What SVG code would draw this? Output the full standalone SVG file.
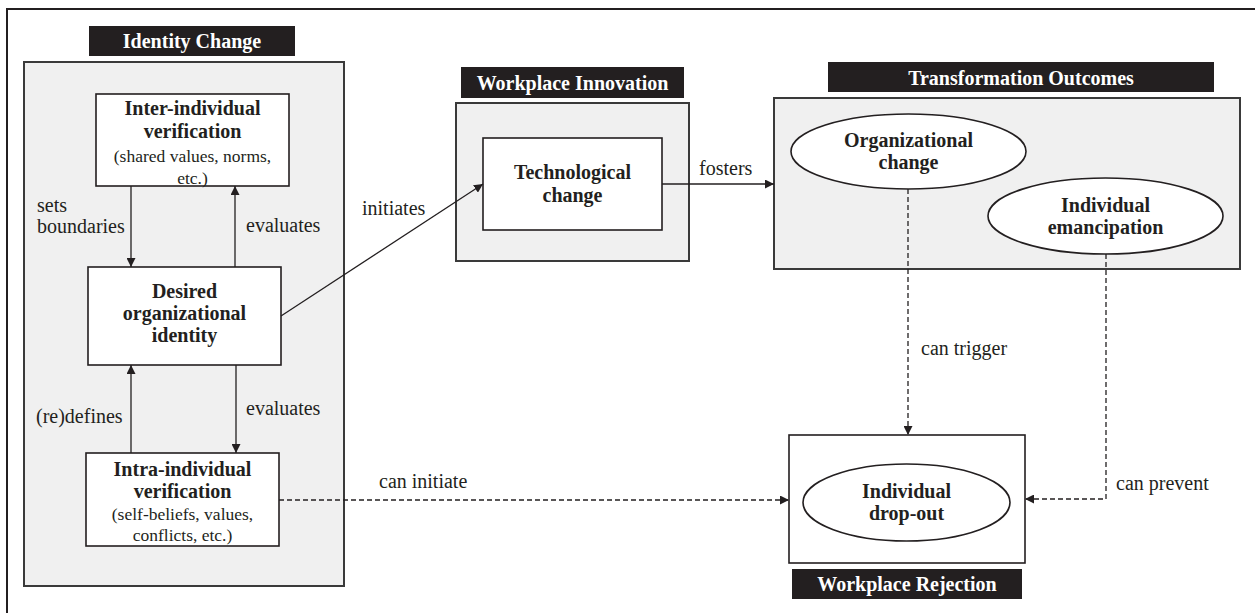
<svg xmlns="http://www.w3.org/2000/svg" width="1255" height="613" viewBox="0 0 1255 613">
<defs>
<marker id="ah" viewBox="0 0 10 10" refX="10" refY="5" markerWidth="9" markerHeight="9" markerUnits="userSpaceOnUse" orient="auto">
<path d="M0,0 L10,5 L0,10 z" fill="#231f20"/>
</marker>
</defs>
<style>
.frame{stroke:#231f20;stroke-width:2;fill:none}
.group{fill:#f0f0f0;stroke:#3a3a3a;stroke-width:2}
.node{fill:#fff;stroke:#231f20;stroke-width:1.6}
.hdr{fill:#231f20}
.hdrt{font-family:"Liberation Serif","Times New Roman",serif;font-weight:bold;font-size:20px;fill:#fff;text-anchor:middle}
.bt{font-family:"Liberation Serif","Times New Roman",serif;font-weight:bold;font-size:20px;fill:#231f20;text-anchor:middle}
.st{font-family:"Liberation Serif","Times New Roman",serif;font-size:17.5px;fill:#231f20;text-anchor:middle}
.lbl{font-family:"Liberation Serif","Times New Roman",serif;font-size:20px;fill:#231f20}
.c{stroke:#231f20;stroke-width:1.3;fill:none;marker-end:url(#ah)}
.d{stroke:#231f20;stroke-width:1.3;fill:none;stroke-dasharray:5,3;marker-end:url(#ah)}
</style>
<rect width="1255" height="613" fill="#fff"/>
<path class="frame" d="M7,613 V9 H1255"/>

<g id="identity-change">
<rect class="group" x="24" y="62" width="320" height="524"/>
<rect class="hdr" x="89" y="26" width="206" height="30"/>
<text class="hdrt" x="192" y="48">Identity Change</text>
</g>
<g id="workplace-innovation">
<rect class="group" x="456" y="103" width="233" height="158"/>
<rect class="hdr" x="461" y="67" width="223" height="31"/>
<text class="hdrt" x="572.5" y="90">Workplace Innovation</text>
</g>
<g id="transformation-outcomes">
<rect class="group" x="774" y="98" width="466" height="171"/>
<rect class="hdr" x="828" y="62" width="386" height="30"/>
<text class="hdrt" x="1021" y="85">Transformation Outcomes</text>
</g>
<g id="workplace-rejection">
<rect class="node" x="789" y="435" width="236" height="128"/>
<rect class="hdr" x="792" y="569" width="230" height="30"/>
<text class="hdrt" x="907" y="591">Workplace Rejection</text>
</g>

<g id="inter-individual">
<rect class="node" x="96" y="94" width="193" height="92"/>
<text class="bt" x="192.5" y="115">Inter-individual</text>
<text class="bt" x="192.5" y="138">verification</text>
<text class="st" x="192.5" y="162">(shared values, norms,</text>
<text class="st" x="192.5" y="184">etc.)</text>
</g>
<g id="desired-identity">
<rect class="node" x="88" y="267" width="193" height="98"/>
<text class="bt" x="184.5" y="298">Desired</text>
<text class="bt" x="184.5" y="320">organizational</text>
<text class="bt" x="184.5" y="342">identity</text>
</g>
<g id="intra-individual">
<rect class="node" x="86" y="453" width="193" height="93"/>
<text class="bt" x="182.5" y="476">Intra-individual</text>
<text class="bt" x="182.5" y="498">verification</text>
<text class="st" x="182.5" y="520">(self-beliefs, values,</text>
<text class="st" x="182.5" y="541">conflicts, etc.)</text>
</g>
<g id="technological-change">
<rect class="node" x="483" y="138" width="179" height="92"/>
<text class="bt" x="572.5" y="179">Technological</text>
<text class="bt" x="572.5" y="202">change</text>
</g>
<g id="organizational-change">
<ellipse class="node" cx="908.5" cy="151.5" rx="117.5" ry="37.5"/>
<text class="bt" x="908.5" y="147">Organizational</text>
<text class="bt" x="908.5" y="169">change</text>
</g>
<g id="individual-emancipation">
<ellipse class="node" cx="1105.5" cy="216" rx="117.5" ry="38"/>
<text class="bt" x="1105.5" y="212">Individual</text>
<text class="bt" x="1105.5" y="234">emancipation</text>
</g>
<g id="individual-dropout">
<ellipse class="node" cx="906.5" cy="502.5" rx="103.5" ry="38.5"/>
<text class="bt" x="906.5" y="498">Individual</text>
<text class="bt" x="906.5" y="520">drop-out</text>
</g>

<g id="connectors">
<line class="c" x1="131" y1="186" x2="131" y2="267"/>
<line class="c" x1="235" y1="267" x2="235" y2="186"/>
<line class="c" x1="236" y1="365" x2="236" y2="453"/>
<line class="c" x1="131" y1="453" x2="131" y2="365"/>
<line class="c" x1="281" y1="316" x2="483" y2="184"/>
<line class="c" x1="662" y1="184" x2="774" y2="184"/>
<line class="d" x1="908" y1="189" x2="908" y2="435"/>
<polyline class="d" points="1106,254 1106,499 1025,499"/>
<line class="d" x1="279" y1="500" x2="789" y2="500"/>
<text class="lbl" x="37" y="212">sets</text>
<text class="lbl" x="37" y="233">boundaries</text>
<text class="lbl" x="246" y="232">evaluates</text>
<text class="lbl" x="246" y="415">evaluates</text>
<text class="lbl" x="36" y="423">(re)defines</text>
<text class="lbl" x="362" y="215">initiates</text>
<text class="lbl" x="699" y="175">fosters</text>
<text class="lbl" x="921" y="355">can trigger</text>
<text class="lbl" x="1116" y="490">can prevent</text>
<text class="lbl" x="379" y="488">can initiate</text>
</g>
</svg>
